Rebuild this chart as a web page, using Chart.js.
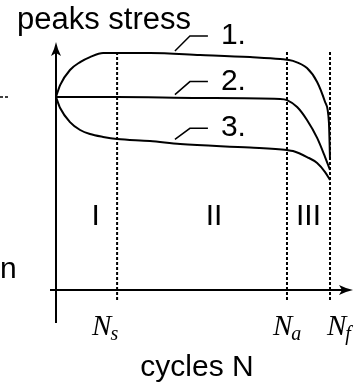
<!DOCTYPE html>
<html>
<head>
<meta charset="utf-8">
<script src="https://cdn.jsdelivr.net/npm/chart.js@4.4.0/dist/chart.umd.min.js"></script>
<style>
    body { margin: 0; background: #fff; }
    #wrap { width: 358px; height: 388px; position: relative; }
</style>
</head>
<body>
<div id="wrap"><canvas id="chart_stress"></canvas></div>
<script>
// cycles (Nf = 100) and peak stress (start = 100)
const cycles1 = [0, 1.5, 5.1, 8.8, 12.4, 17.2, 22.3, 34.3, 52.6, 70.8, 81.8, 86.5, 91.6, 95.3, 98.2, 99.6, 100];
const stress1 = [100, 106.2, 114.0, 118.1, 120.7, 122.8, 122.8, 122.8, 121.8, 120.7, 119.7, 118.7, 115.0, 107.8, 97.4, 87.0, 67.4];

const cycles2 = [0, 22.3, 52.6, 81.8, 84.3, 88.0, 91.6, 95.3, 98.2, 100];
const stress2 = [100, 100, 99.5, 99.0, 98.4, 94.8, 88.1, 78.8, 68.9, 62.2];

const cycles3 = [0, 1.5, 5.1, 8.8, 12.4, 17.2, 22.3, 34.3, 45.3, 70.8, 84.3, 86.5, 91.6, 95.3, 98.2, 100];
const stress3 = [100, 94.3, 87.0, 82.9, 80.8, 79.3, 78.2, 77.2, 75.6, 73.8, 72.5, 72.0, 68.9, 65.8, 61.1, 57.0];

// phase boundaries Ns, Na, Nf
const bounds = [22.3, 84.3, 100];
const boundNames = ["s", "a", "f"];
const boundLow = -5.2;
const boundHigh = 123.3;

const phases = ["I", "II", "III"];
const curveNames = ["1.", "2.", "3."];
// where the leader lines leave each curve
const leaderX = 43.4;
const leaderY = [122.3, 99.7, 76.5];

const SANS = '"Liberation Sans", Arial, sans-serif';
const SERIF = '"Liberation Serif", "DejaVu Serif", serif';

function pts(xs, ys){
    let out = [];
    for(let i = 0; i < xs.length; i++){
        out.push({x: xs[i], y: ys[i]});
    }
    return out;
}

function curve(xs, ys){
    return {
        data: pts(xs, ys),
        borderColor: "#000",
        borderWidth: 2,
        pointRadius: 0,
        cubicInterpolationMode: "monotone",
        fill: false
    };
}

function boundLine(x){
    return {
        data: [{x: x, y: boundLow}, {x: x, y: boundHigh}],
        borderColor: "#000",
        borderWidth: 2,
        borderDash: [3, 2],
        pointRadius: 0,
        fill: false
    };
}

function arrowHead(ctx, x, y, dir){
    // dir: "up" or "right"
    ctx.save();
    ctx.translate(x, y);
    if(dir === "right") ctx.rotate(Math.PI / 2);
    ctx.beginPath();
    ctx.moveTo(0, 0);
    ctx.quadraticCurveTo(1.5, 7, 5, 14);
    ctx.lineTo(0, 11);
    ctx.lineTo(-5, 14);
    ctx.quadraticCurveTo(-1.5, 7, 0, 0);
    ctx.closePath();
    ctx.fillStyle = "#000";
    ctx.fill();
    ctx.restore();
}

function nLabel(ctx, sub, x, y){
    ctx.font = "italic 29px " + SERIF;
    ctx.textAlign = "left";
    ctx.textBaseline = "alphabetic";
    ctx.fillText("N", x, y);
    let w = ctx.measureText("N").width;
    ctx.font = "italic 20px " + SERIF;
    ctx.fillText(sub, x + w - 1, y + 5);
}

function sansText(ctx, txt, x, y, size, align){
    ctx.font = size + "px " + SANS;
    ctx.textAlign = align;
    ctx.textBaseline = "alphabetic";
    ctx.fillText(txt, x, y);
}

const sketchPlugin = {
    id: "sketch",
    afterDatasetsDraw(chart){
        const ctx = chart.ctx;
        const sx = chart.scales.x;
        const sy = chart.scales.y;
        const area = chart.chartArea;
        const x0 = sx.getPixelForValue(0);
        const y0 = sy.getPixelForValue(0);

        ctx.save();
        ctx.strokeStyle = "#000";
        ctx.fillStyle = "#000";
        ctx.lineWidth = 2;

        // axes
        ctx.beginPath();
        ctx.moveTo(x0, area.bottom);
        ctx.lineTo(x0, area.top + 6);
        ctx.moveTo(area.left, y0);
        ctx.lineTo(area.right - 6, y0);
        ctx.stroke();
        arrowHead(ctx, x0, area.top, "up");
        arrowHead(ctx, area.right, y0, "right");

        // leftover dashes on the left edge
        ctx.lineWidth = 1.5;
        ctx.setLineDash([3, 2]);
        ctx.beginPath();
        ctx.moveTo(0, sy.getPixelForValue(100));
        ctx.lineTo(9, sy.getPixelForValue(100));
        ctx.stroke();
        ctx.setLineDash([]);

        // leader lines and curve numbers
        ctx.lineWidth = 1.5;
        const lx = sx.getPixelForValue(leaderX);
        const rises = [15, 13, 11];
        for(let i = 0; i < curveNames.length; i++){
            const ly = sy.getPixelForValue(leaderY[i]) - 3;
            const rise = rises[i];
            ctx.beginPath();
            ctx.moveTo(lx, ly);
            ctx.lineTo(lx + 15, ly - rise);
            ctx.lineTo(lx + 33, ly - rise);
            ctx.stroke();
            sansText(ctx, curveNames[i], lx + 46, ly - rise + 8, 30, "left");
        }

        // title texts
        sansText(ctx, "peaks stress", 17, 29, 31, "left");
        sansText(ctx, "n", 0, 278, 30, "left");
        sansText(ctx, "cycles N", 197, 376, 30, "center");

        // phase numerals
        const phaseX = [
            (x0 + sx.getPixelForValue(bounds[0])) / 2 + 9,
            (sx.getPixelForValue(bounds[0]) + sx.getPixelForValue(bounds[1])) / 2 + 12,
            (sx.getPixelForValue(bounds[1]) + sx.getPixelForValue(bounds[2])) / 2
        ];
        for(let i = 0; i < phases.length; i++){
            sansText(ctx, phases[i], phaseX[i], 225, 30, "center");
        }

        // tick labels under the boundaries
        nLabel(ctx, boundNames[0], sx.getPixelForValue(bounds[0]) - 25, 335);
        nLabel(ctx, boundNames[1], sx.getPixelForValue(bounds[1]) - 14, 335);
        nLabel(ctx, boundNames[2], sx.getPixelForValue(bounds[2]) - 3, 335);

        ctx.restore();
    }
};

const ctx = document.getElementById("chart_stress");
new Chart(ctx, {
    type: "line",
    data: {
        datasets: [
            curve(cycles1, stress1),
            curve(cycles2, stress2),
            curve(cycles3, stress3),
            boundLine(bounds[0]),
            boundLine(bounds[1]),
            boundLine(bounds[2])
        ]
    },
    options: {
        responsive: true,
        maintainAspectRatio: false,
        animation: false,
        layout: {
            padding: {left: 50, right: 5, top: 42, bottom: 65}
        },
        plugins: {
            legend: {display: false},
            tooltip: {enabled: false}
        },
        scales: {
            x: {type: "linear", min: -2.19, max: 108.39, display: false},
            y: {type: "linear", min: -17.1, max: 128.5, display: false}
        }
    },
    plugins: [sketchPlugin]
});
</script>
</body>
</html>
